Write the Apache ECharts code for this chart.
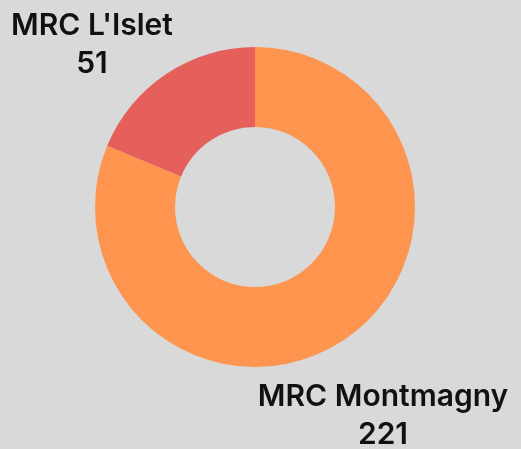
<!DOCTYPE html>
<html>
<head>
<meta charset="utf-8">
<script src="https://cdn.jsdelivr.net/npm/echarts@6/dist/echarts.min.js"></script>
<style>
html,body{margin:0;padding:0;background:#d9d9d9;}
#chart{width:521px;height:449px;}
</style>
</head>
<body>
<div id="chart"></div>
<script>
const categories = ["MRC Montmagny", "MRC L'Islet"];
const values = [221, 51];
const colors = ["#FF954F", "#E5605A"];

const labelPos = [
  {x: 383, y: 416},
  {x: 92, y: 45}
];

const chart = echarts.init(document.getElementById('chart'));
chart.setOption({
  backgroundColor: '#d9d9d9',
  animation: false,
  series: [{
    type: 'pie',
    center: [255, 207],
    radius: [80, 160],
    startAngle: 90,
    clockwise: true,
    data: categories.map((c, i) => ({name: c, value: values[i], itemStyle: {color: colors[i]}})),
    label: {
      show: true,
      position: 'outside',
      formatter: '{b}\n{c}',
      fontFamily: 'Inter',
      fontWeight: 600,
      fontSize: 30,
      lineHeight: 38,
      color: '#111',
      align: 'center',
      overflow: 'none',
      width: 400
    },
    labelLine: {show: false},
    labelLayout: function (params) {
      const p = labelPos[params.dataIndex];
      return {x: p.x, y: p.y, align: 'center', verticalAlign: 'middle'};
    },
    emphasis: {disabled: true}
  }]
});
</script>
</body>
</html>
